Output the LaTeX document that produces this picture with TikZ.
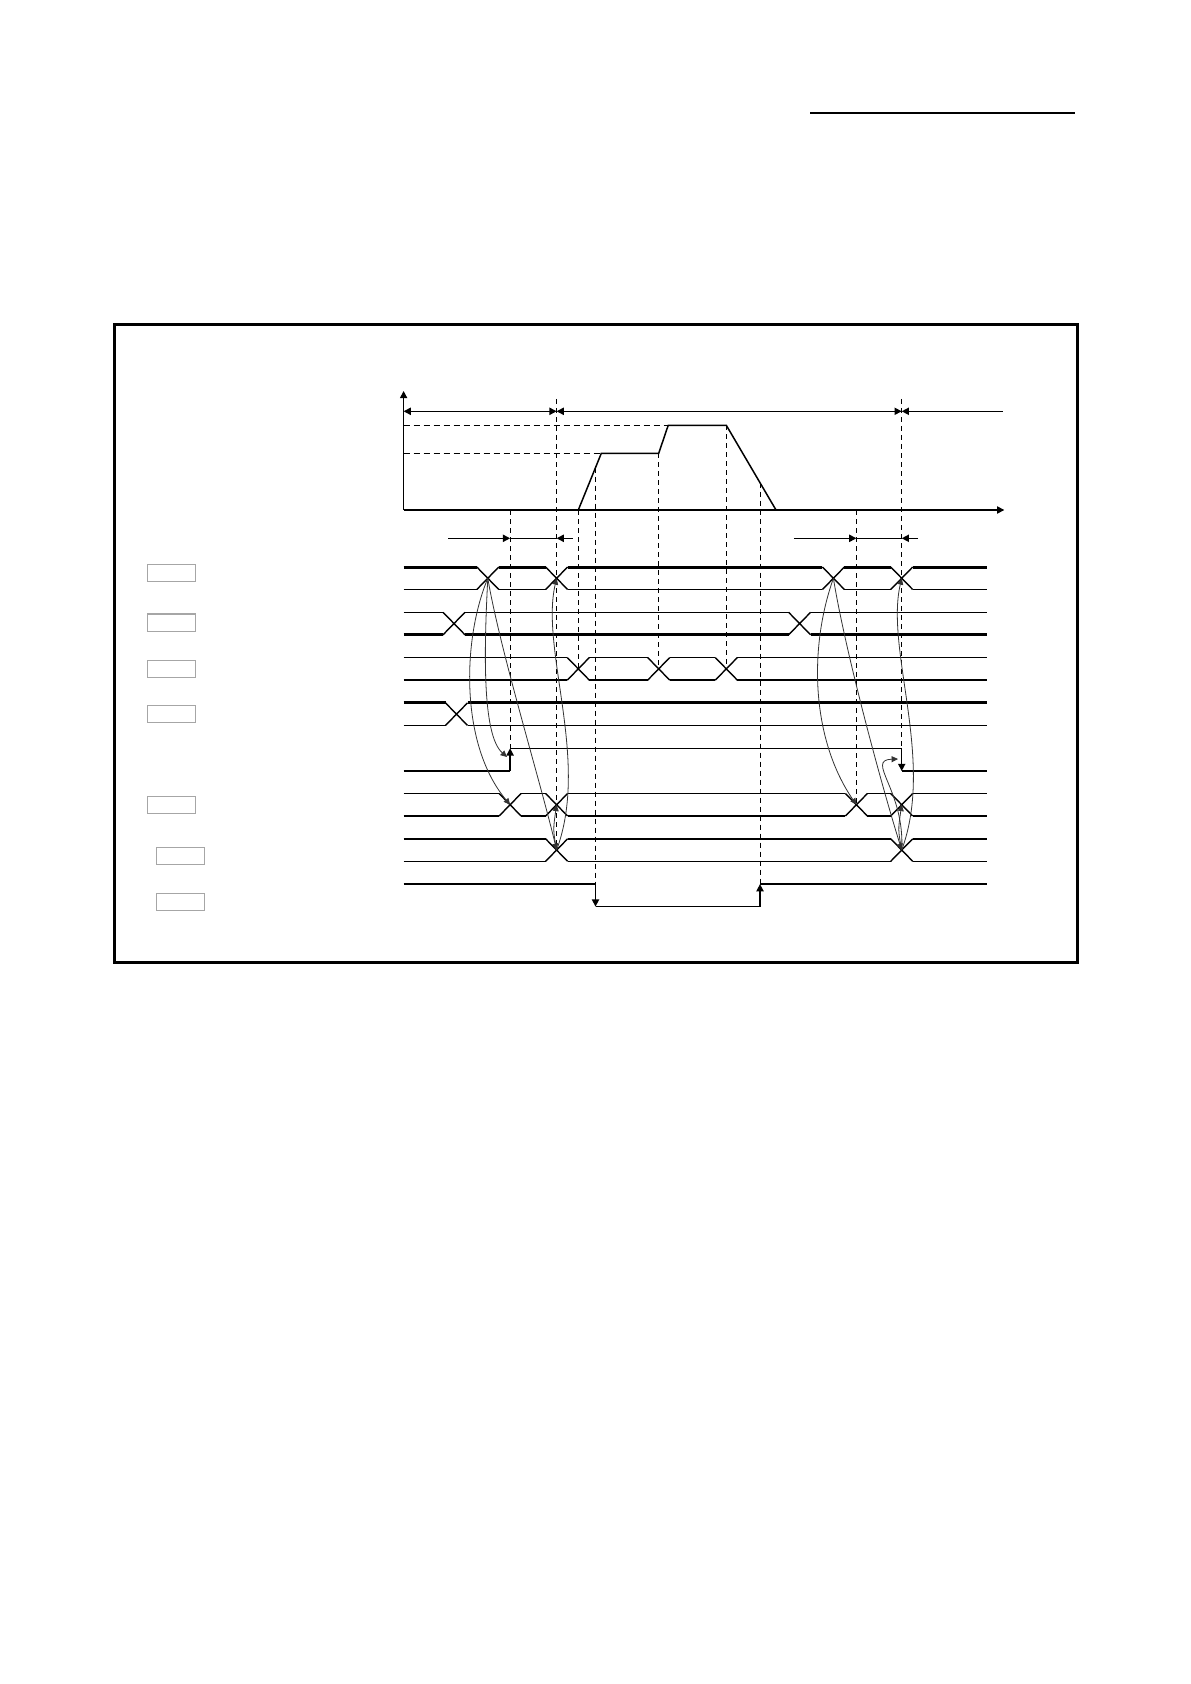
\documentclass[tikz,border=0pt]{standalone}
\usetikzlibrary{arrows.meta}

\tikzset{
  >={Triangle[length=3.6pt,width=3.6pt]},
  sig/.style={line width=0.7pt},
  sigthick/.style={line width=1.5pt},
  guide/.style={line width=0.5pt, dash pattern=on 2.5pt off 2pt},
  level/.style={line width=0.5pt, dash pattern=on 3pt off 2pt},
  link/.style={line width=0.4pt, black!80, -{Triangle[length=3.2pt,width=3pt]}},
  lbl/.style={draw=gray!70, line width=0.6pt, rectangle, minimum width=24pt, minimum height=8.6pt, inner sep=0pt}
}

% one bus row: top style, bottom style, top y, bottom y, crossings (last one is the end)
\newcommand{\busrow}[5]{%
  \foreach \cx [remember=\cx as \px (initially 392.6)] in {#5} {
    \draw[#1] ({\px+11},#3) -- ({\cx-11},#3);
    \draw[#2] ({\px+11},#4) -- ({\cx-11},#4);
    \ifdim \cx pt<990pt
      \draw[sig] ({\cx-11},#3) -- ({\cx+11},#4) ({\cx-11},#4) -- ({\cx+11},#3);
    \fi
  }}

\begin{document}
\begin{tikzpicture}[x=0.5pt, y=-0.5pt]
  \useasboundingbox (0,0) rectangle (1190,1684);

  % Rule and frame
  \draw[line width=0.7pt] (810,113) -- (1075,113);
  \draw[line width=1.5pt] (114,324.5) rectangle (1077,962.5);

  % Nodes for signal labels
  \node[lbl] (L1) at (171.3,572.7) {};
  \node[lbl] (L2) at (171.5,622.5) {};
  \node[lbl] (L3) at (171.3,668.8) {};
  \node[lbl] (L4) at (171.3,714.0) {};
  \node[lbl] (L5) at (171.3,804.8) {};
  \node[lbl] (L6) at (180.3,856.2) {};
  \node[lbl] (L7) at (180.3,902.0) {};

  % Speed graph
  \coordinate (O) at (403.6,510);
  \draw[sig,->] (O) -- (1004.3,510);
  \draw[sig,->] (O) -- (403.6,391);
  \draw[level] (403.6,425.3) -- (668.2,425.3);
  \draw[level] (403.6,453.3) -- (601.3,453.3);
  \draw[line width=0.75pt] (578.3,510) -- (601.3,453.3) -- (658.7,453.3)
    -- (668.2,425.3) -- (726.3,425.3) -- (776,510);

  % Intervals
  \draw[sig,<->] (403.6,411.3) -- (556.6,411.3);
  \draw[sig,<->] (556.6,411.3) -- (901.7,411.3);
  \draw[sig,<-] (901.7,411.3) -- (1003,411.3);
  \draw[sig,->] (448.2,538.3) -- (510.1,538.3);
  \draw[sig] (510.1,538.3) -- (556.6,538.3);
  \draw[sig,->] (572.7,538.3) -- (556.6,538.3);
  \draw[sig,->] (793.9,538.3) -- (856.4,538.3);
  \draw[sig] (856.4,538.3) -- (901.7,538.3);
  \draw[sig,->] (918.2,538.3) -- (901.7,538.3);

  % Bus signals
  \busrow{sigthick}{sig}{567}{589.5}{487.8,556.6,833.4,901.7,997.5}
  \busrow{sig}{sigthick}{612.3}{634.8}{454,799.6,997.5}
  \busrow{sig}{sig}{657.6}{680.1}{578.3,658.7,726.3,997.5}
  \busrow{sigthick}{sig}{702.9}{725.4}{456.5,997.5}
  \busrow{sig}{sig}{793.5}{816}{510.1,556.6,856.4,901.7,997.5}
  \busrow{sig}{sig}{838.8}{861.3}{556.6,901.7,997.5}

  % Level signals
  \draw[sig] (403.6,771) -- (510.1,771);
  \draw[sig,->] (510.1,771) -- (510.1,748.3);
  \draw[sig] (510.1,748.3) -- (901.7,748.3);
  \draw[sig,->] (901.7,748.3) -- (901.7,771);
  \draw[sig] (901.7,771) -- (986.5,771);
  \draw[sig] (403.6,884.1) -- (595.5,884.1);
  \draw[sig,->] (595.5,884.1) -- (595.5,906.6);
  \draw[sig] (595.5,906.6) -- (760,906.6);
  \draw[sig,->] (760,906.6) -- (760,884.1);
  \draw[sig] (760,884.1) -- (986.5,884.1);

  % Guide lines
  \draw[guide] (556.6,399) -- (556.6,847);
  \draw[guide] (901.7,399) -- (901.7,760);
  \draw[guide] (510.1,510) -- (510.1,750);
  \draw[guide] (578.3,510) -- (578.3,668.8);
  \draw[guide] (595.5,467.6) -- (595.5,884.1);
  \draw[guide] (658.7,453.3) -- (658.7,668.8);
  \draw[guide] (726.3,425.3) -- (726.3,668.8);
  \draw[guide] (760,482.7) -- (760,884.1);
  \draw[guide] (856.4,510) -- (856.4,804.7);

  % Crossing points
  \coordinate (C1a) at (487.8,578.3);
  \coordinate (C1b) at (556.6,578.3);
  \coordinate (C1c) at (833.4,578.3);
  \coordinate (C1d) at (901.7,578.3);
  \coordinate (C6a) at (510.1,804.7);
  \coordinate (C6b) at (556.6,804.7);
  \coordinate (C6c) at (856.4,804.7);
  \coordinate (C6d) at (901.7,804.7);
  \coordinate (C7a) at (556.6,850);
  \coordinate (C7b) at (901.7,850);
  \coordinate (E5a) at (507,757);
  \coordinate (E5b) at (898,759);

  % Edges
  \draw[link] (C1a) .. controls (462,640) and (460,745) .. (C6a);
  \draw[link] (C1a) .. controls (484,650) and (482,735) .. (E5a);
  \draw[link] (C1a) .. controls (500,650) and (540,780) .. (C7a);
  \draw[link] (C7a) .. controls (590,760) and (540,650) .. (C1b);
  \draw[link] (C7a) .. controls (553,830) .. (C6b);
  \draw[link] (C1c) .. controls (808,650) and (812,740) .. (C6c);
  \draw[link] (C1c) .. controls (845,650) and (880,780) .. (C7b);
  \draw[link] (C7b) .. controls (935,760) and (885,650) .. (C1d);
  \draw[link] (C7b) .. controls (898,830) .. (C6d);
  \draw[link] (C7b) .. controls (905,790) and (865,760) .. (E5b);
\end{tikzpicture}
\end{document}
